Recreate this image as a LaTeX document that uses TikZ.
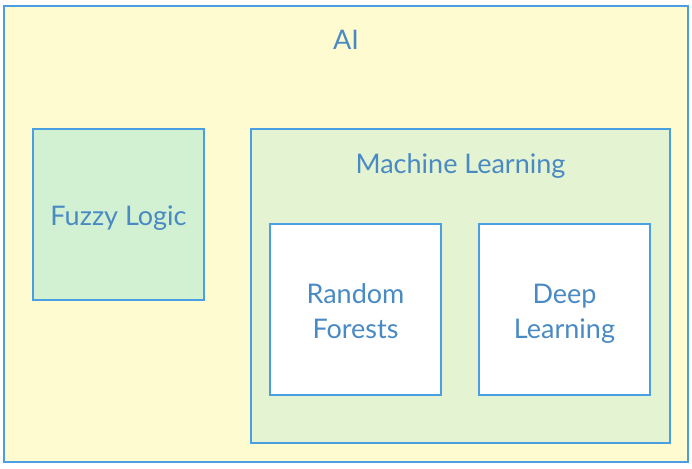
\documentclass[tikz,border=0pt]{standalone}
\usepackage{fontspec}
\setmainfont{Lato}
\definecolor{bordc}{HTML}{4A9FE3}
\definecolor{textc}{HTML}{4A8AC4}
\definecolor{yelc}{HTML}{FFFBD0}
\definecolor{mlc}{HTML}{E4F3D2}
\definecolor{fzc}{HTML}{D2F0D2}
\begin{document}
\begin{tikzpicture}[x=1pt,y=-1pt,
  boxc/.style={draw=bordc,line width=2pt},
  lbl/.style={text=textc,font=\fontsize{27}{35}\selectfont,align=center,inner sep=0pt,anchor=base}]
\useasboundingbox[fill=white] (0,0) rectangle (692,468);
\draw[boxc,fill=yelc] (4,6) rectangle (688,462);
\node[lbl] (ai) at (346,50) {AI};
\draw[boxc,fill=fzc] (33,129) rectangle (204,300);
\node[lbl] (fz) at (118.5,225) {Fuzzy Logic};
\draw[boxc,fill=mlc] (251,129) rectangle (670,443);
\node[lbl] (ml) at (460.5,173) {Machine Learning};
\draw[boxc,fill=white] (270,224) rectangle (441,395);
\node[lbl] (rf) at (355.5,338) {Random\\Forests};
\draw[boxc,fill=white] (479,224) rectangle (650,395);
\node[lbl] (dl) at (564.5,338) {Deep\\Learning};
\end{tikzpicture}
\end{document}
